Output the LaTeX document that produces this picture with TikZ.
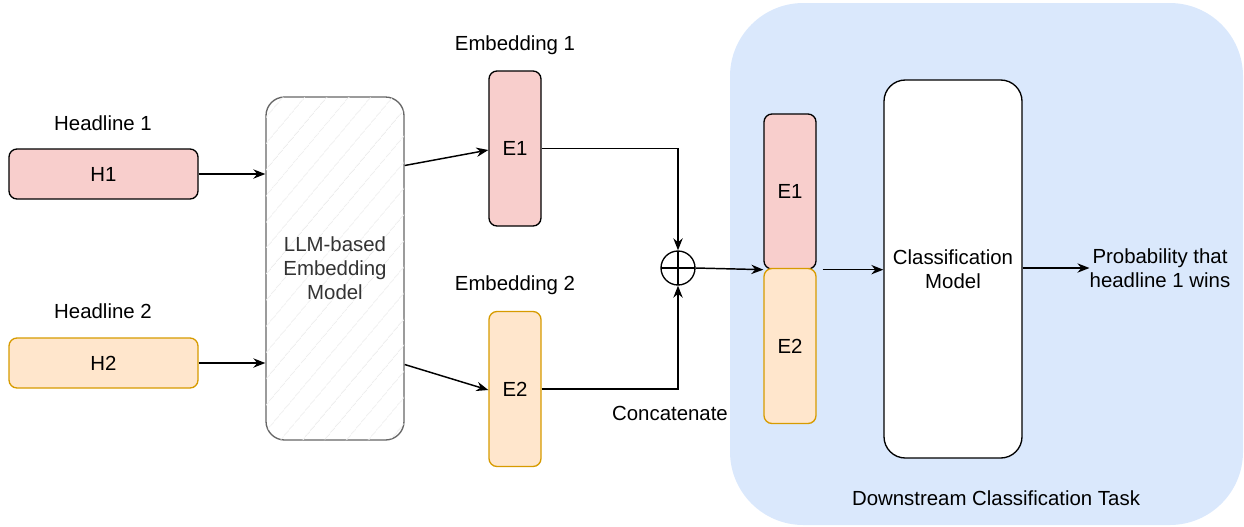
\documentclass[tikz,border=0pt]{standalone}
\usepackage{fontspec}
\setmainfont{Liberation Sans}
\usetikzlibrary{arrows.meta,calc,patterns.meta}
\definecolor{redfill}{HTML}{F8CECC}
\definecolor{orgfill}{HTML}{FFE6CC}
\definecolor{orgline}{HTML}{D79B00}
\definecolor{taskfill}{HTML}{DAE8FC}
\definecolor{llmline}{HTML}{666666}
\definecolor{llmtext}{HTML}{333333}
\tikzset{
  box/.style={draw, line width=1pt, rounded corners=6pt, align=center, inner sep=0pt},
  redbox/.style={box, fill=redfill},
  orgbox/.style={box, fill=orgfill, draw=orgline},
  emb/.style={minimum width=39pt, minimum height=116.25pt},
  txt/.style={align=center, inner sep=0pt},
  arr/.style={-{Stealth[length=9pt,width=7pt]}, line width=1.1pt},
}
\begin{document}
\begin{tikzpicture}[x=0.75pt, y=-0.75pt, font=\fontsize{15.3}{18}\selectfont]
  \useasboundingbox (0,0) rectangle (1244,526);
  \node[fill=taskfill, rounded corners=55pt, minimum width=384.75pt, minimum height=391.5pt] (task) at (986.5,264) {};
  \node[txt] (tasklbl) at (996,498) {Downstream Classification Task};
  % inputs
  \node[txt] (hl1) at (103,123) {Headline 1};
  \node[redbox, minimum width=141.75pt, minimum height=37.5pt] (h1) at (103.5,174) {H1};
  \node[txt] (hl2) at (103,311) {Headline 2};
  \node[orgbox, minimum width=141.75pt, minimum height=37.5pt] (h2) at (103.5,363) {H2};
  % embedding model
  \node[box, draw=llmline, text=llmtext, fill=white, rounded corners=14pt,
    postaction={pattern={Lines[angle=50,distance=13pt,line width=0.6pt]}, pattern color=black!7},
    minimum width=103.5pt, minimum height=257.25pt] (llm) at (335,268.5) {LLM-based\\Embedding\\Model};
  \node[txt] (el1) at (515,45) {Embedding 1};
  \node[redbox, emb] (e1) at (515,148.5) {E1};
  \node[txt] (el2) at (515,285) {Embedding 2};
  \node[orgbox, emb] (e2) at (515,389) {E2};
  \node[draw, circle, line width=1pt, minimum size=25.5pt, inner sep=0pt,
    path picture={\draw[line width=1pt] (path picture bounding box.north) -- (path picture bounding box.south)
      (path picture bounding box.west) -- (path picture bounding box.east);}] (plus) at (678,268) {};
  \node[txt] (cat) at (670,413) {Concatenate};
  % downstream
  \node[redbox, emb] (re1) at (790,191.5) {E1};
  \node[orgbox, emb] (re2) at (790,346) {E2};
  \node[box, fill=white, rounded corners=16pt, minimum width=103.5pt, minimum height=283.5pt] (cls) at (953,269) {Classification\\Model};
  \node[txt] (prob) at (1160,268) {Probability that\\headline 1 wins};
  \coordinate (join) at ($(re1.south east)+(6,0)$);
  % connectors
  \draw[arr] (h1.east) -- (llm.west |- h1.east);
  \draw[arr] (h2.east) -- (llm.west |- h2.east);
  \draw[arr] ($(llm.east)+(0,-103)$) -- ($(e1.west)+(0,1.5)$);
  \draw[arr] ($(llm.east)+(0,96)$) -- ($(e2.west)+(0,1)$);
  \draw[arr] (e1.east) -| (plus.north);
  \draw[arr] (e2.east) -| (plus.south);
  \draw[arr] (plus.east) -- (re1.south west);
  \draw[arr] (join) -- (cls.west |- join);
  \draw[arr] (cls.east |- prob.west) -- (prob.west);
\end{tikzpicture}
\end{document}
